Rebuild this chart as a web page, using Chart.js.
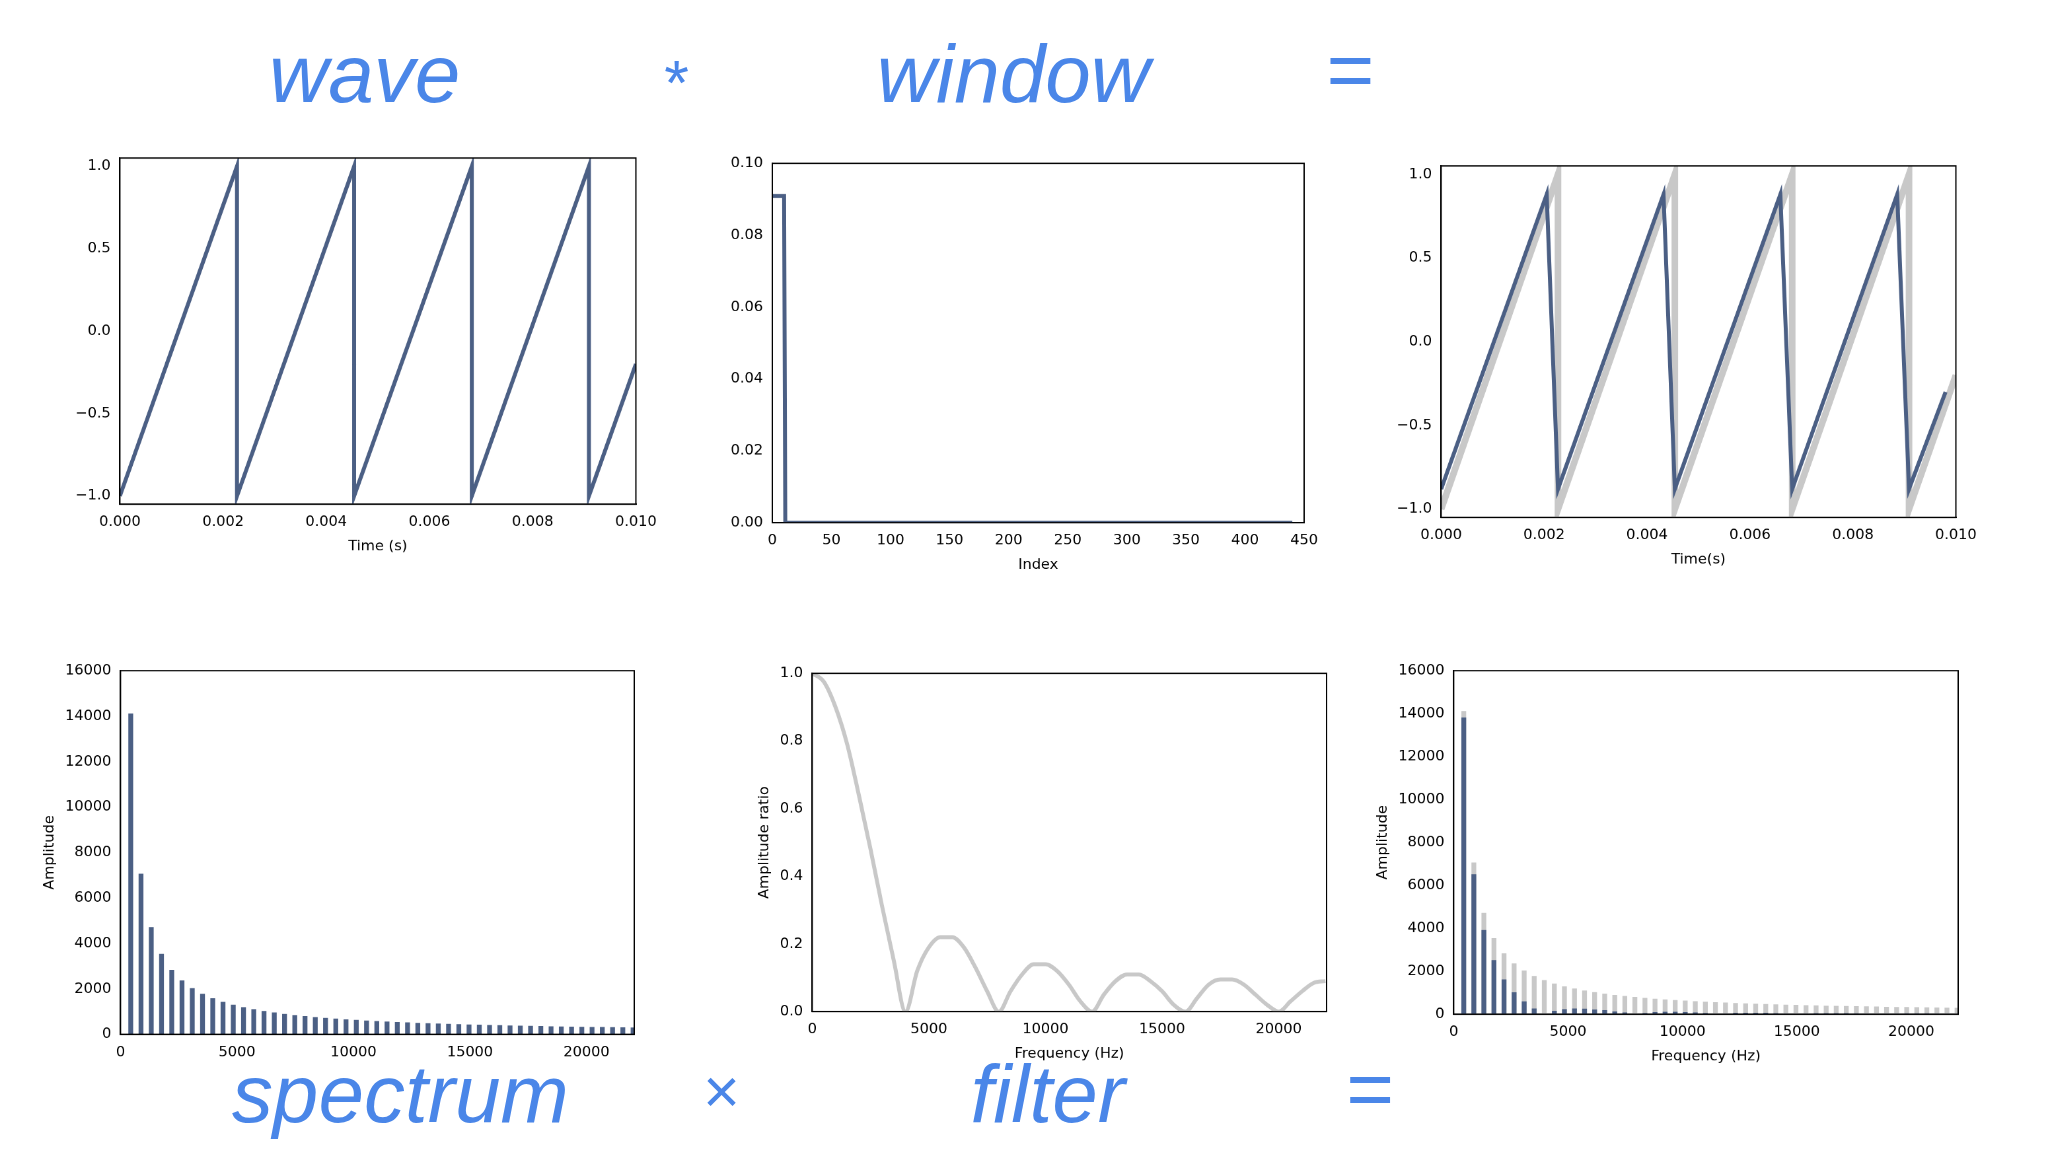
<!DOCTYPE html>
<html><head><meta charset="utf-8">
<script src="https://cdn.jsdelivr.net/npm/chart.js@4"></script>
<style>
html,body{margin:0;padding:0;background:#fff;overflow:hidden}
#wrap{position:absolute;left:0;top:0;width:1550px;height:872px;transform-origin:0 0;transform:scale(1.32129)}
.c{position:absolute}
.t{position:absolute;font-family:"Liberation Sans",Arial,sans-serif;font-style:italic;color:#4a86e8;font-size:62px;transform:translate(-50%,-50%);white-space:nowrap}
.o{font-style:normal}
</style></head><body>
<div id="wrap">
<div class="t" style="left:276px;top:56px">wave</div>
<div class="t o" style="left:512px;top:62px;font-size:48px">*</div>
<div class="t" style="left:767px;top:56px">window</div>
<div class="t o" style="left:1022px;top:53px">=</div>
<div class="t" style="left:303px;top:828px">spectrum</div>
<div class="t o" style="left:546px;top:826px;font-size:48px">×</div>
<div class="t" style="left:793px;top:828px">filter</div>
<div class="t o" style="left:1037px;top:824px">=</div>
<div class="c" style="left:54px;top:110px;width:446px;height:312px"><canvas id="c1"></canvas></div>
<div class="c" style="left:550px;top:114px;width:451px;height:322px"><canvas id="c2"></canvas></div>
<div class="c" style="left:1054px;top:116px;width:445px;height:316px"><canvas id="c3"></canvas></div>
<div class="c" style="left:29px;top:498px;width:465px;height:308px"><canvas id="c4"></canvas></div>
<div class="c" style="left:570px;top:500px;width:448px;height:306px"><canvas id="c5"></canvas></div>
<div class="c" style="left:1038px;top:498px;width:458px;height:310px"><canvas id="c6"></canvas></div>
</div>
<script>
// ---- data ----
const waveT = [0, 0.00227, 0.00227, 0.00454, 0.00454, 0.00682, 0.00682, 0.00909, 0.00909, 0.0100];
const waveY = [-1, 1, -1, 1, -1, 1, -1, 1, -1, -0.2];
const winIdx = [0, 10, 11, 440];
const winVal = [0.0909, 0.0909, 0, 0];
const convT = [0, 0.00205, 0.00227, 0.00432, 0.00454, 0.00659, 0.00682, 0.00886, 0.00909, 0.0098];
const convY = [-0.88, 0.88, -0.88, 0.88, -0.88, 0.88, -0.88, 0.88, -0.88, -0.3];
const harmHz = [440,880,1320,1760,2200,2640,3080,3520,3960,4400,4840,5280,5720,6160,6600,7040,7480,7920,8360,8800,9240,9680,10120,10560,11000,11440,11880,12320,12760,13200,13640,14080,14520,14960,15400,15840,16280,16720,17160,17600,18040,18480,18920,19360,19800,20240,20680,21120,21560,22000];
const specAmp = [14100,7050,4700,3525,2820,2350,2014,1763,1567,1410,1282,1175,1085,1007,940,881,829,783,742,705,671,641,613,588,564,542,522,504,486,470,455,441,427,415,403,392,381,371,362,353,344,336,328,320,313,307,300,294,288,282];
const filtAmp = [13800,6500,3900,2500,1600,1000,580,250,10,140,220,250,240,200,170,110,60,10,40,80,95,90,80,60,40,10,20,45,50,50,45,35,20,5,15,30,35,35,32,25,12,5,10,20,25,25,22,18,10,5];
const filtF = [0,500,1000,1500,2000,2500,3000,3500,4000,4500,5000,5500,6000,6500,7000,7500,8000,8500,9000,9500,10000,10500,11000,11500,12000,12500,13000,13500,14000,14500,15000,15500,16000,16500,17000,17500,18000,18500,19000,19500,20000,20500,21000,21500,22000];
const filtR = [1.0,0.975,0.90,0.79,0.64,0.48,0.31,0.15,0,0.12,0.19,0.22,0.22,0.19,0.13,0.06,0,0.06,0.11,0.14,0.14,0.12,0.08,0.03,0,0.05,0.09,0.11,0.11,0.09,0.06,0.02,0,0.04,0.08,0.095,0.095,0.08,0.05,0.02,0,0.03,0.06,0.085,0.09];
const freqTicks = [0,5000,10000,15000,20000];
const sawTicks = [-1,-0.5,0,0.5,1];

const DARK='#4b5f84', GRAY='#c8c8c8';
const FONT={family:'"DejaVu Sans",sans-serif',size:11};
Chart.defaults.color='#000';
Chart.defaults.font=FONT;
Chart.defaults.devicePixelRatio=2;
const boxPlugin={id:'box',afterDraw(ch){const a=ch.chartArea,c=ch.ctx;c.save();c.strokeStyle='#000';c.lineWidth=1;c.strokeRect(a.left,a.top,a.right-a.left,a.bottom-a.top);c.restore();}};
const pts=(xs,ys)=>xs.map((x,i)=>({x,y:ys[i]}));
function ax(min,max,step,fmt,title,fixed){const o={type:'linear',min,max,offset:false,grid:{display:false,drawTicks:true,tickLength:4,offset:false},border:{display:true,color:'#000'},ticks:{stepSize:step,autoSkip:false,callback:fmt,font:FONT,color:'#000'},title:title?{display:true,text:title,font:FONT,color:'#000',padding:2}:{display:false}};
 if(fixed)o.afterBuildTicks=a=>{a.ticks=fixed.map(v=>({value:v}));};return o;}
const fx=d=>v=>{const s=Number(v).toFixed(d);return s.replace('-','−');};
const intf=v=>String(Math.round(v));
function mk(id,datasets,xs,ys,type){
 new Chart(document.getElementById(id),{type:type||'line',data:{datasets},plugins:[boxPlugin],
  options:{responsive:true,maintainAspectRatio:false,animation:false,layout:{padding:{right:14,top:6}},
  plugins:{legend:{display:false},tooltip:{enabled:false}},elements:{point:{radius:0}},scales:{x:xs,y:ys}}});
}
mk('c1',[{data:pts(waveT,waveY),borderColor:DARK,borderWidth:3}],ax(0,0.01,0.002,fx(3),'Time (s)'),ax(-1.05,1.05,0.5,fx(1),null,sawTicks));
mk('c2',[{data:pts(winIdx,winVal),borderColor:DARK,borderWidth:3}],ax(0,450,50,intf,'Index'),ax(0,0.1,0.02,fx(2)));
mk('c3',[{data:pts(convT,convY),borderColor:DARK,borderWidth:3},{data:pts(waveT,waveY),borderColor:GRAY,borderWidth:5}],ax(0,0.01,0.002,fx(3),'Time(s)'),ax(-1.05,1.05,0.5,fx(1),null,sawTicks));
mk('c4',[{data:pts(harmHz,specAmp),backgroundColor:DARK,barThickness:3}],ax(0,22050,5000,intf,null,freqTicks),ax(0,16000,2000,intf,'Amplitude'),'bar');
mk('c5',[{data:pts(filtF,filtR),borderColor:GRAY,borderWidth:3,cubicInterpolationMode:'monotone'}],ax(0,22050,5000,intf,'Frequency (Hz)',freqTicks),ax(0,1,0.2,fx(1),'Amplitude ratio'));
mk('c6',[{data:pts(harmHz,filtAmp),backgroundColor:DARK,barThickness:3,grouped:false,order:0},{data:pts(harmHz,specAmp),backgroundColor:GRAY,barThickness:3,grouped:false,order:1}],ax(0,22050,5000,intf,'Frequency (Hz)',freqTicks),ax(0,16000,2000,intf,'Amplitude'),'bar');
</script>
</body></html>
